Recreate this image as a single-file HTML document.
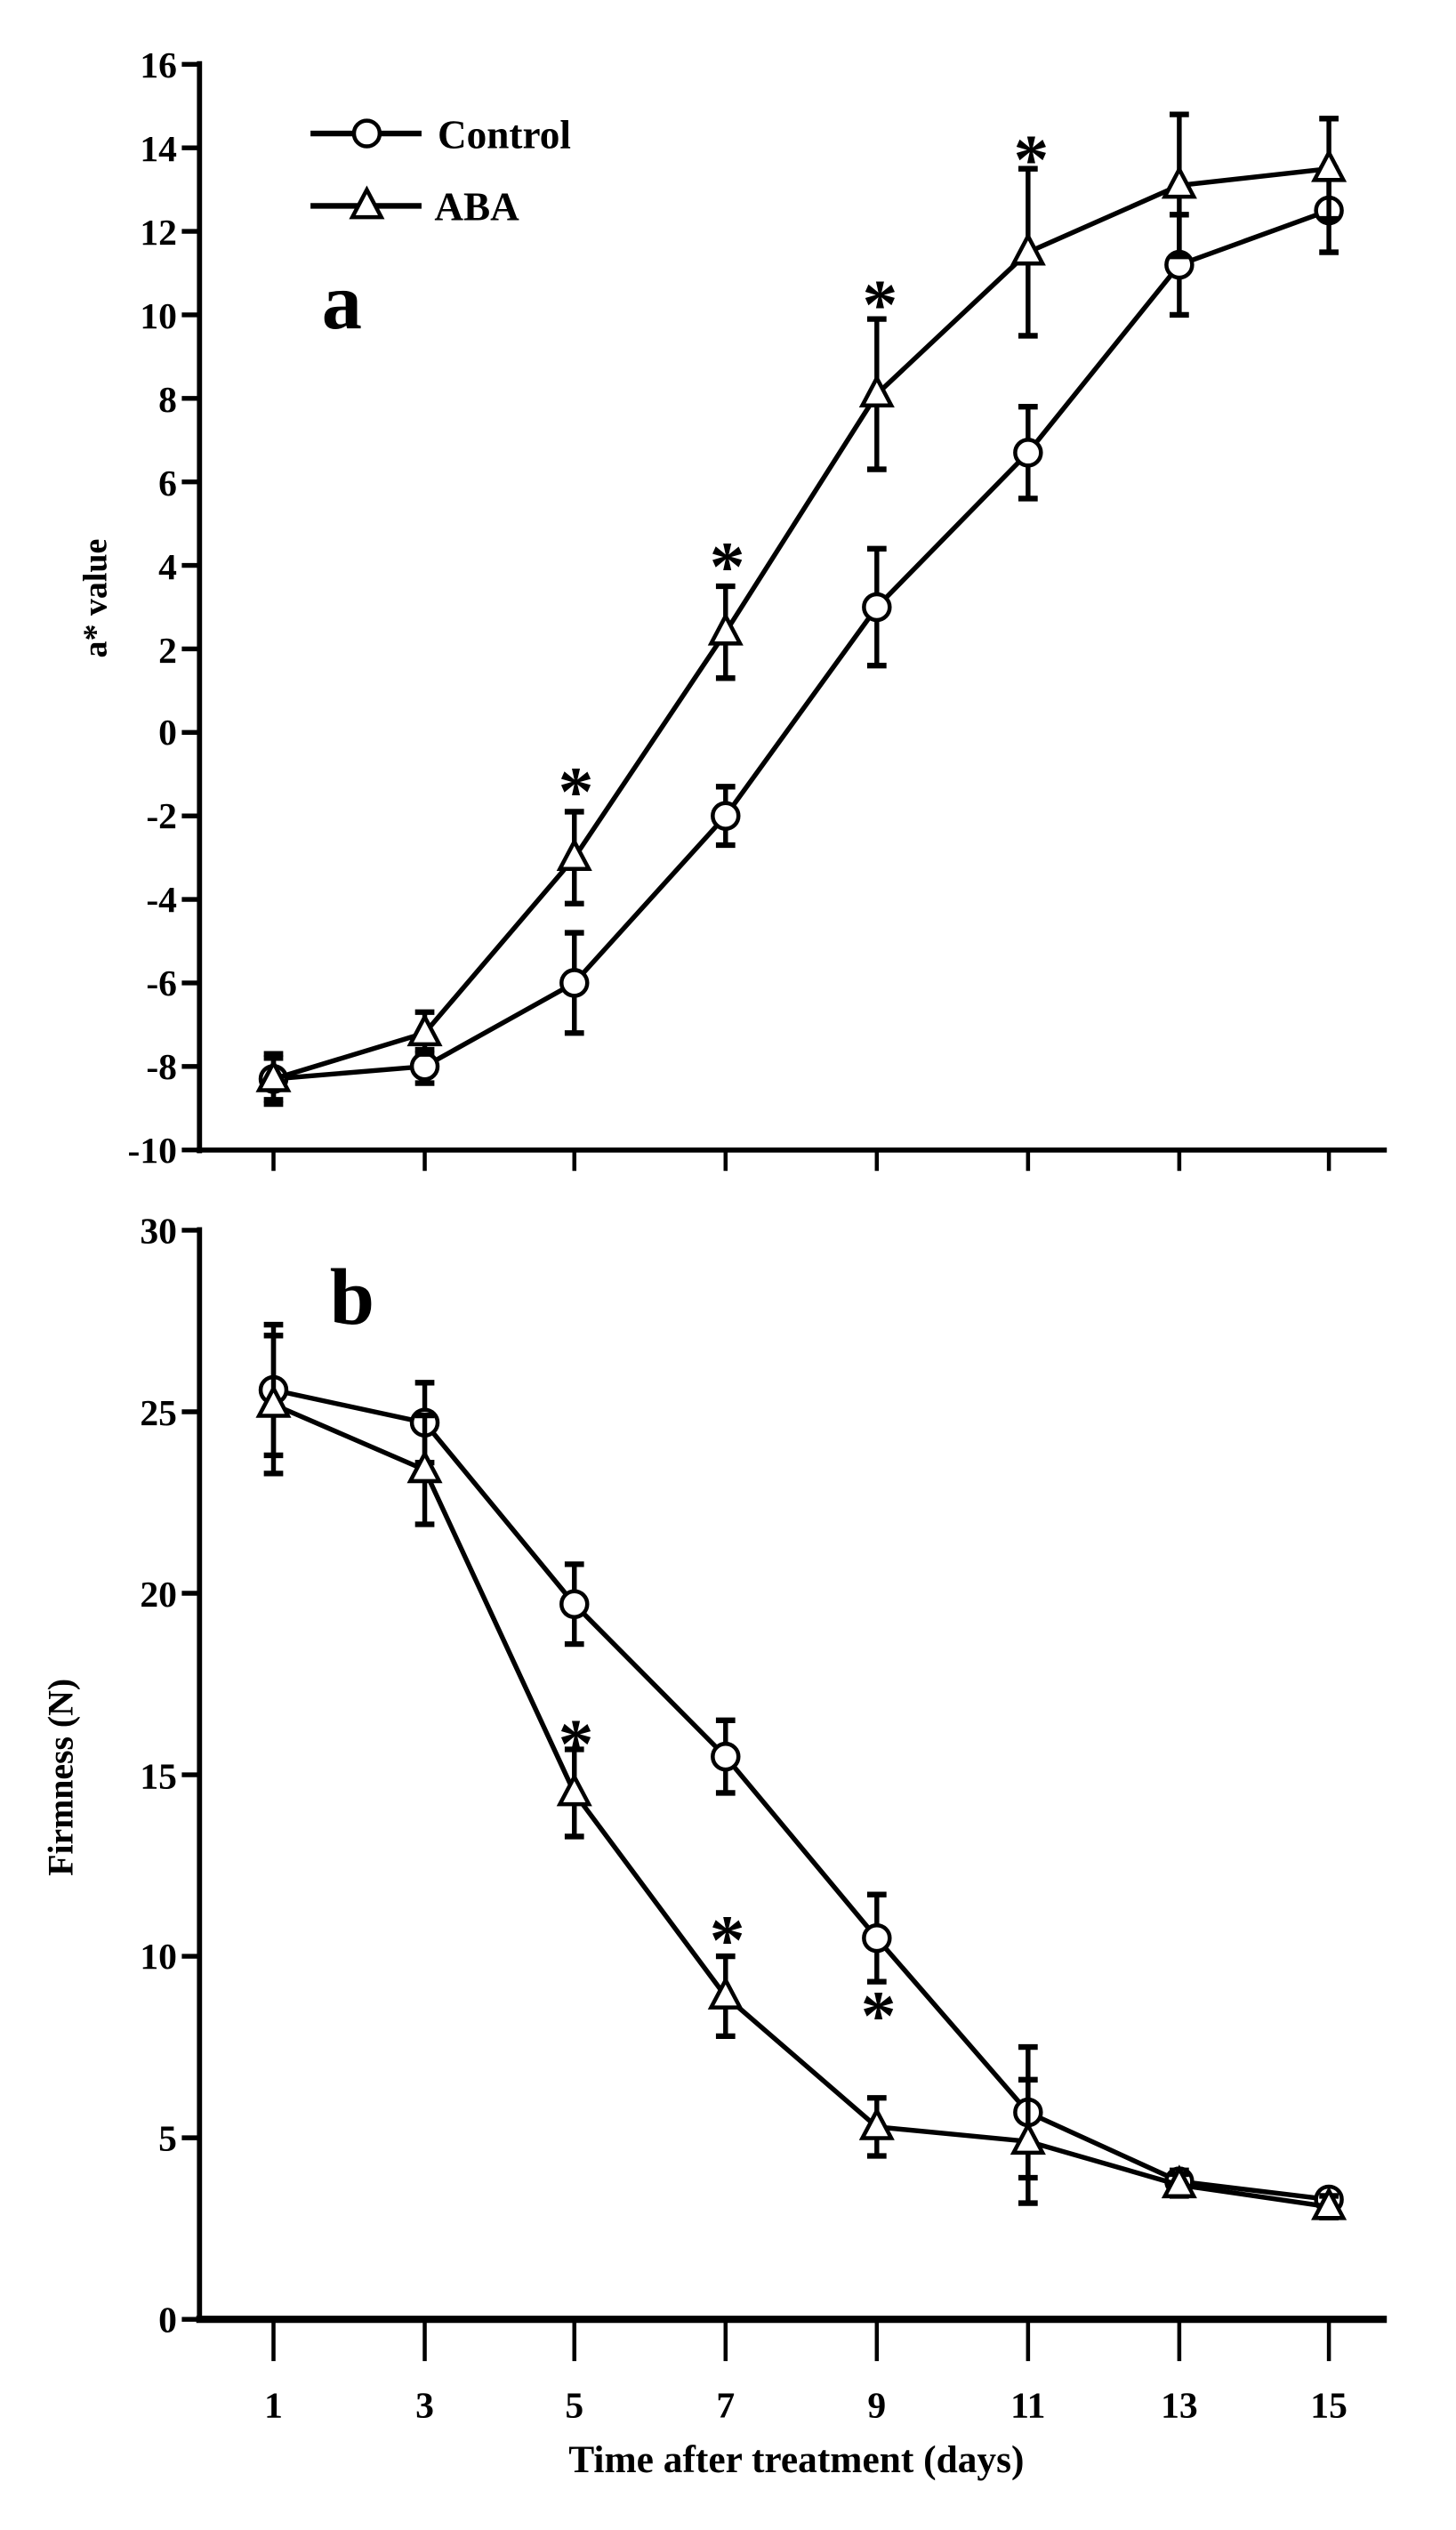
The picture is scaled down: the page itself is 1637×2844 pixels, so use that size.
<!DOCTYPE html>
<html><head><meta charset="utf-8"><style>
html,body{margin:0;padding:0;background:#fff;}
svg{display:block;}
text{font-family:"Liberation Serif",serif;font-weight:bold;fill:#000;}
</style></head><body>
<svg id="s" width="1637" height="2844" viewBox="0 0 905 1573" preserveAspectRatio="none" xmlns="http://www.w3.org/2000/svg">
<g id="g" stroke="#000" fill="none" stroke-linecap="butt"></g>
<g font-size="23" text-anchor="end">
<text x="110" y="48">16</text><text x="110" y="100">14</text><text x="110" y="152">12</text><text x="110" y="204">10</text>
<text x="110" y="256">8</text><text x="110" y="308">6</text><text x="110" y="360">4</text><text x="110" y="412">2</text>
<text x="110" y="463">0</text><text x="110" y="515">-2</text><text x="110" y="567">-4</text><text x="110" y="619">-6</text>
<text x="110" y="671">-8</text><text x="110" y="723">-10</text>
<text x="110" y="773">30</text><text x="110" y="886">25</text><text x="110" y="999">20</text><text x="110" y="1112">15</text>
<text x="110" y="1224">10</text><text x="110" y="1337">5</text><text x="110" y="1450">0</text>
</g>
<g font-size="23" text-anchor="middle">
<text x="170" y="1503">1</text><text x="264" y="1503">3</text><text x="357" y="1503">5</text><text x="451" y="1503">7</text>
<text x="545" y="1503">9</text><text x="639" y="1503">11</text><text x="733" y="1503">13</text><text x="826" y="1503">15</text>
</g>
<text x="495" y="1537" font-size="24" text-anchor="middle">Time after treatment (days)</text>
<text transform="translate(66,372) rotate(-90)" font-size="21" text-anchor="middle">a* value</text>
<text transform="translate(45,1105) rotate(-90)" font-size="22" text-anchor="middle">Firmness (N)</text>
<text x="200" y="204" font-size="50">a</text>
<text x="205" y="823" font-size="50">b</text>
<text x="272" y="92" font-size="25">Control</text>
<text x="270" y="137" font-size="25">ABA</text>
<g font-size="44" text-anchor="middle" style="font-weight:normal">
<text x="358" y="507">*</text><text x="452" y="367">*</text><text x="547" y="204">*</text><text x="641" y="114">*</text>
<text x="358" y="1099">*</text><text x="452" y="1221">*</text><text x="546" y="1268">*</text>
</g>
</svg>
<script>
var g=document.getElementById('g'),NS='http://www.w3.org/2000/svg';
function el(t,a){var e=document.createElementNS(NS,t);for(var k in a)e.setAttribute(k,a[k]);g.appendChild(e);return e;}
function line(x1,y1,x2,y2,w){el('line',{x1:x1,y1:y1,x2:x2,y2:y2,'stroke-width':w});}
var X=[170,264,357,451,545,639,733,826];
var ya=function(v){return 40+(16-v)*25.96;};
line(124,38,124,717,3.2);line(122,715,862,715,3.2);
for(var v=16;v>=-10;v-=2)line(113,ya(v),124,ya(v),3);
X.forEach(function(x){line(x,715,x,728,2.5);});
var yb=function(v){return 1442-v*22.57;};
line(124,763,124,1444,3.2);line(122,1442,862,1442,4.5);
for(var v=0;v<=30;v+=5)line(113,yb(v),124,yb(v),3);
X.forEach(function(x){line(x,1442,x,1468,2.5);});
function series(yf,d,e,mk){
  var pts=d.map(function(v,i){return X[i]+','+yf(v);}).join(' ');
  el('polyline',{points:pts,'stroke-width':3});
  d.forEach(function(v,i){var x=X[i],t=yf(v+e[i]),b=yf(v-e[i]);
    line(x,t,x,b,3);line(x-6,t,x+6,t,3.5);line(x-6,b,x+6,b,3.5);});
  d.forEach(function(v,i){marker(X[i],yf(v),mk);});
}
function marker(x,y,mk){
  if(mk=='c')el('circle',{cx:x,cy:y,r:8,fill:'#fff','stroke-width':2.5});
  else el('polygon',{points:(x)+','+(y-10)+' '+(x-9)+','+(y+7)+' '+(x+9)+','+(y+7),fill:'#fff','stroke-width':2.5});
}
series(ya,[-8.3,-8.0,-6.0,-2.0,3.0,6.7,11.2,12.5],[0.6,0.4,1.2,0.7,1.4,1.1,1.2,1.0],'c');
series(ya,[-8.3,-7.2,-3.0,2.4,8.1,11.5,13.1,13.5],[0.5,0.5,1.1,1.1,1.8,2.0,1.7,1.2],'t');
series(yb,[25.6,24.7,19.7,15.5,10.5,5.7,3.8,3.3],[1.8,1.1,1.1,1.0,1.2,1.8,0.3,0.2],'c');
series(yb,[25.2,23.4,14.5,8.9,5.3,4.9,3.7,3.1],[1.9,1.5,1.2,1.1,0.8,1.7,0.3,0.3],'t');
line(193,83,262,83,3.5);marker(228,83,'c');
line(193,128,262,128,3.5);marker(228,128,'t');
</script>
</body></html>
